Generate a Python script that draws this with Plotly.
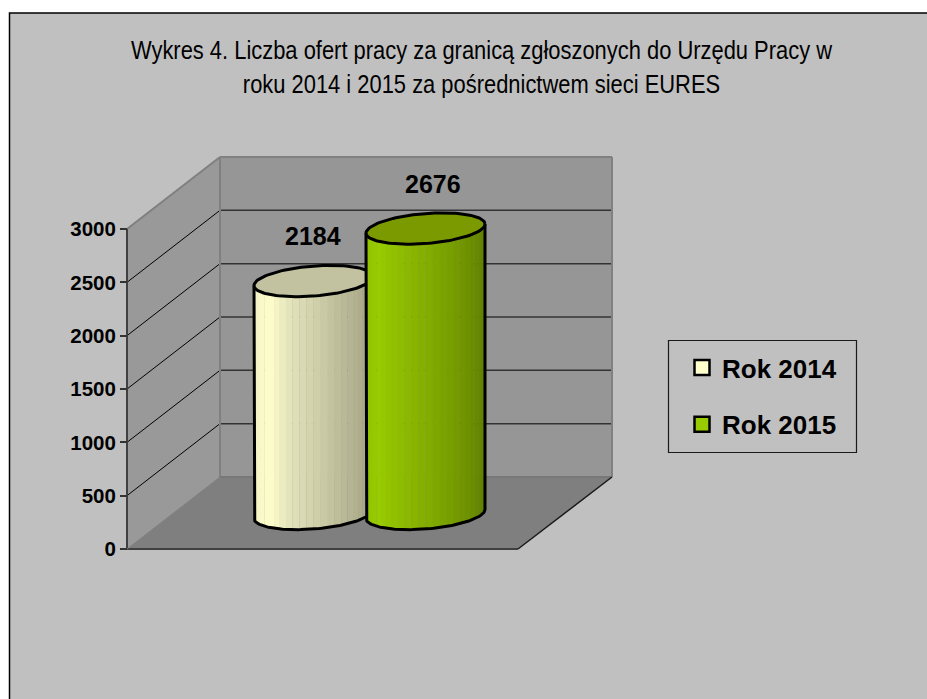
import numpy as np
import plotly.graph_objects as go

# ---- data ----
series_names = ["Rok 2014", "Rok 2015"]
series_values = [2184, 2676]
axis_ticks = [0, 500, 1000, 1500, 2000, 2500, 3000]
title_lines = ["Wykres 4. Liczba ofert pracy za granicą zgłoszonych do Urzędu Pracy w",
               "roku 2014 i 2015 za pośrednictwem sieci EURES"]

# ---- styles / layout ----
W, H = 927, 699
Y0_PX, Y3000_PX = 549, 229
S = (Y0_PX - Y3000_PX) / 3000          # px per unit
FRONT_L, FRONT_R = 127, 518
DX, DV = 93, 72 / S                    # depth offset
VMAX = 3000
BASE = (Y0_PX - 514) / S               # cylinder base centre
CENTERS = [313.5, 425.5]
A, B, K = 59.5, 15 / S, 4.5 / S        # ellipse shape
SIDE_STOPS = [
    [(0, "#EDEDC2"), (0.24, "#FFFFCC"), (0.37, "#E4E4BC"), (0.5, "#D2D2AC"), (0.65, "#BCBC9A"), (0.84, "#A8A888"), (1, "#A0A082")],
    [(0, "#8CBB00"), (0.06, "#92C200"), (0.22, "#99CC00"), (0.5, "#84AF00"), (0.77, "#6C8F00"), (1, "#5A7800")],
]
TOP_COL = ["#C2C2A0", "#7A9A00"]
LEG_COL = ["#FFFFCC", "#99CC00"]
LABEL_X = [312.5, 433]
LABEL_PX = [236, 184]
TITLE_CX = 481.5
TITLE_XSCALE = 0.843


def rgb(h):
    return np.array([int(h[i:i + 2], 16) for i in (1, 3, 5)], float)


def col(stops, f):
    for (a, ca), (b, cb) in zip(stops, stops[1:]):
        if f <= b:
            c = rgb(ca) + (rgb(cb) - rgb(ca)) * (f - a) / (b - a)
            return "rgb(%d,%d,%d)" % tuple(c)
    return stops[-1][1]


fig = go.Figure()
shapes = []


def poly(pts, fill, line=None, width=0):
    path = "M " + " L ".join(f"{x},{y}" for x, y in pts) + " Z"
    shapes.append(dict(type="path", path=path, xref="x", yref="y", fillcolor=fill, layer="below",
                       line=dict(color=line or fill, width=width)))


def seg(x0, y0, x1, y1, c, w):
    shapes.append(dict(type="line", xref="x", yref="y", x0=x0, y0=y0, x1=x1, y1=y1, layer="below",
                       line=dict(color=c, width=w)))


# frame
shapes.append(dict(type="rect", xref="paper", yref="paper", x0=9.5 / W, x1=1.02, y0=-0.02, y1=1 - 13 / H,
                   fillcolor="#C0C0C0", line=dict(color="#000000", width=1.5), layer="below"))
# walls & floor
poly([(FRONT_L, 0), (FRONT_L + DX, DV), (FRONT_L + DX, VMAX + DV), (FRONT_L, VMAX)], "#999999")
poly([(FRONT_L + DX, DV), (FRONT_R + DX + 1, DV), (FRONT_R + DX + 1, VMAX + DV), (FRONT_L + DX, VMAX + DV)], "#969696")
poly([(FRONT_L, 0), (FRONT_R, 0), (FRONT_R + DX + 1, DV), (FRONT_L + DX, DV)], "#7F7F7F")
# grid
for v in axis_ticks[1:-1]:
    seg(FRONT_L, v, FRONT_L + DX, v + DV, "#000000", 1)
    seg(FRONT_L + DX, v + DV, FRONT_R + DX + 1, v + DV, "#333333", 1.5)
# wall edges
G = "#808080"
seg(FRONT_L, VMAX, FRONT_L + DX, VMAX + DV, G, 2)
seg(FRONT_L + DX, VMAX + DV, FRONT_R + DX + 1, VMAX + DV, G, 2)
seg(FRONT_R + DX + 1, DV, FRONT_R + DX + 1, VMAX + DV, G, 2)
seg(FRONT_L + DX, DV, FRONT_L + DX, VMAX + DV, G, 2)
seg(FRONT_L + DX, DV, FRONT_R + DX + 1, DV, "#787878", 2)
seg(FRONT_L, 0, FRONT_L, VMAX, "#404040", 2)
seg(FRONT_L, 0, FRONT_R, 0, "#404040", 2)
seg(FRONT_L, 0, FRONT_L + DX, DV, "#808080", 1)
seg(FRONT_R, 0, FRONT_R + DX + 1, DV, "#1A1A1A", 1.5)


def lower(vc, u):
    return vc + K * u - B * np.sqrt(1 - u ** 2)


def add(xs, ys, **kw):
    fig.add_trace(go.Scatter(x=list(xs), y=list(ys), showlegend=False, hoverinfo="skip", **kw))


for i, val in enumerate(series_values):
    cx = CENTERS[i]
    top = BASE + val
    N = 26
    edges = -np.cos(np.linspace(0, np.pi, N + 1))
    for j in range(N):
        u0, u1 = edges[j], min(1, edges[j + 1] + 0.004)
        us = -np.cos(np.linspace(np.arccos(-u0), np.arccos(-u1), 6))
        xs = np.r_[cx + A * us, cx + A * us[::-1]]
        ys = np.r_[lower(BASE, us), lower(top, us[::-1])]
        add(xs, ys, mode="none", fill="toself", fillcolor=col(SIDE_STOPS[i], (j + 0.5) / N))
    # outline of body
    us = -np.cos(np.linspace(0, np.pi, 80))
    add(np.r_[cx - A, cx + A * us, cx + A], np.r_[top - K, lower(BASE, us), top + K],
        mode="lines", line=dict(color="#000000", width=3))
    # top ellipse
    t = np.linspace(0, 2 * np.pi, 121)
    add(cx + A * np.cos(t), top + K * np.cos(t) + B * np.sin(t), mode="lines", fill="toself",
        fillcolor=TOP_COL[i], line=dict(color="#000000", width=3))

# legend entries
for name, c in zip(series_names, LEG_COL):
    fig.add_trace(go.Scatter(x=[None], y=[None], mode="markers", name=name, legendgroup=name,
                             marker=dict(symbol="square", size=15, color=c, line=dict(color="#000000", width=2.5))))
# legend box
shapes.append(dict(type="rect", xref="paper", yref="paper", x0=668.5 / W, x1=856.5 / W,
                   y0=1 - 452.5 / H, y1=1 - 340.5 / H, fillcolor="rgba(0,0,0,0)",
                   line=dict(color="#1A1A1A", width=1.2), layer="below"))

# data labels
for i, val in enumerate(series_values):
    fig.add_annotation(x=LABEL_X[i], y=(Y0_PX - LABEL_PX[i]) / S,
                       text=f"<b>{val}</b>", showarrow=False, xanchor="center", yanchor="middle",
                       font=dict(family="Liberation Sans", size=25, color="#000000"))

fig.update_layout(
    width=W, height=H, margin=dict(l=0, r=0, t=0, b=0), autosize=False,
    paper_bgcolor="#FFFFFF", plot_bgcolor="rgba(0,0,0,0)",
    shapes=shapes,
    title=dict(text="<br>".join(title_lines), x=TITLE_CX / W, xanchor="center", y=1 - 59.5 / H, yanchor="top",
               font=dict(family="Liberation Sans", size=26, color="#000000")),
    xaxis=dict(range=[0, W], visible=False, fixedrange=True),
    yaxis=dict(range=[(Y0_PX - H) / S, Y0_PX / S], anchor="free", position=FRONT_L / W, side="left",
               tickmode="array", tickvals=axis_ticks, ticktext=[str(v) for v in axis_ticks],
               ticks="outside", ticklen=7, tickwidth=1.5, tickcolor="#333333",
               tickfont=dict(family="Liberation Sans", size=20.5, color="#000000", weight="bold"),
               showgrid=False, zeroline=False, showline=False, fixedrange=True),
    showlegend=True,
    legend=dict(x=682 / W, y=1 - 344 / H, xanchor="left", yanchor="top", bgcolor="rgba(0,0,0,0)",
                borderwidth=0, tracegroupgap=20, itemwidth=30,
                font=dict(family="Liberation Sans", size=26, color="#000000", weight="bold")),
)
post = ("document.body.style.margin='0';"
        "var t=document.querySelector('.gtitle');"
        f"if(t){{t.setAttribute('transform','translate({TITLE_CX},0) scale({TITLE_XSCALE},1) translate({-TITLE_CX},0)');}}")
fig.write_html("out.html", config=dict(displayModeBar=False), post_script=post)
